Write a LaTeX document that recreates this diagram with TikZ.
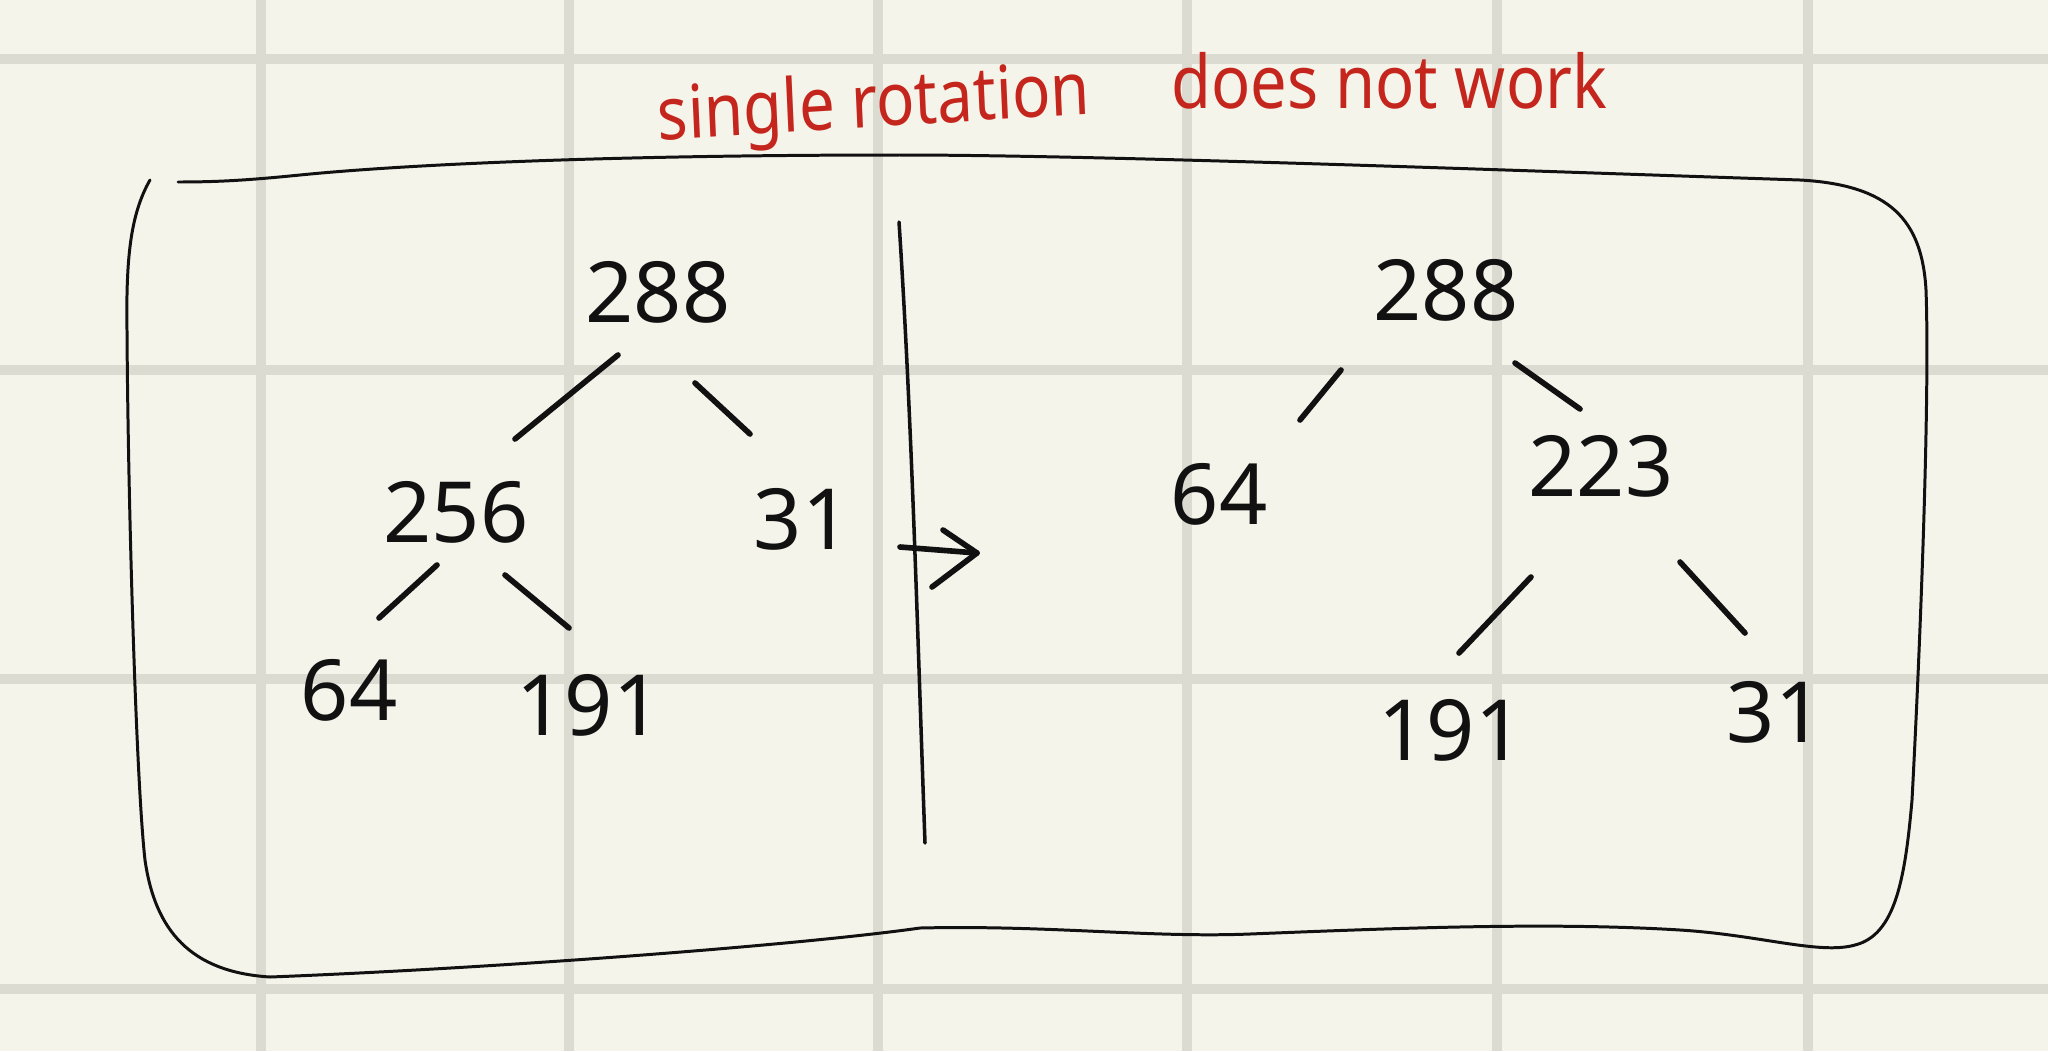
\documentclass[tikz,border=0pt]{standalone}
\usepackage{fontspec}
\setmainfont{Noto Sans}
\usetikzlibrary{calc}
\definecolor{paper}{HTML}{F5F4EA}
\definecolor{gridc}{HTML}{DCDBD1}
\definecolor{ink}{HTML}{111111}
\definecolor{redink}{HTML}{C4261D}
\begin{document}
\begin{tikzpicture}[x=0.01cm,y=-0.01cm,
  num/.style={font=\fontsize{24}{28}\selectfont, text=ink, inner sep=0pt},
  edge/.style={draw=ink, line width=1.6pt, line cap=round, line join=round},
  frame/.style={draw=ink, line width=0.85pt, line cap=round, line join=round},
  titletext/.style={font=\fontsize{21}{25}\selectfont, text=redink, inner sep=0pt, anchor=base},
  gridline/.style={draw=gridc, line width=2.85pt}]
\fill[paper] (0,0) rectangle (2048,1051);
\useasboundingbox (0,0) rectangle (2048,1051);
\foreach \gx in {261,569,878,1187,1497,1808} \draw[gridline] (\gx,0) -- (\gx,1051);
\foreach \gy in {59,370,679,989} \draw[gridline] (0,\gy) -- (2048,\gy);

% title
\node[titletext, xscale=0.86, rotate=3] (t1) at (875,127) {single rotation};
\node[titletext, xscale=0.88] (t2) at (1389,108) {does not work};

% frame
\draw[frame] (150,180) .. controls (130,215) and (126,260) .. (127,330)
  .. controls (128,500) and (136,780) .. (145,860)
  .. controls (155,930) and (190,972) .. (270,977)
  .. controls (500,968) and (800,945) .. (920,928)
  .. controls (1050,925) and (1150,938) .. (1250,934)
  .. controls (1400,928) and (1550,922) .. (1680,930)
  .. controls (1760,935) and (1820,955) .. (1855,945)
  .. controls (1895,935) and (1905,880) .. (1912,800)
  .. controls (1920,650) and (1930,400) .. (1926,290)
  .. controls (1922,220) and (1890,185) .. (1800,180)
  .. controls (1500,170) and (1100,155) .. (900,155)
  .. controls (600,155) and (400,165) .. (300,175)
  .. controls (250,180) and (220,182) .. (178,182);

% divider
\draw[draw=ink, line width=1pt, line cap=round] (899,222) .. controls (912,420) and (918,650) .. (925,843);

% arrow
\coordinate (arrS) at (900,547);
\coordinate (arrE) at (977,553);
\draw[edge] (arrS) -- (arrE);
\draw[edge] (943,530) -- (arrE) -- (932,587);

% left tree
\node[num] (a288) at (658,292) {288};
\node[num] (a256) at (456,512) {256};
\node[num] (a31)  at (802,519) {31};
\node[num] (a64)  at (349,690) {64};
\node[num] (a191) at (589,705) {191};
\draw[edge] ($(a288)+(-40,63)$) -- ($(a256)+(59,-73)$);
\draw[edge] ($(a288)+(37,91)$)  -- ($(a31)+(-52,-85)$);
\draw[edge] ($(a256)+(-19,53)$) -- ($(a64)+(30,-72)$);
\draw[edge] ($(a256)+(49,63)$)  -- ($(a191)+(-20,-77)$);

% right tree
\node[num] (b288) at (1446,290) {288};
\node[num] (b64)  at (1219,494) {64};
\node[num] (b223) at (1601,466) {223};
\node[num] (b191) at (1451,730) {191};
\node[num] (b31)  at (1775,712) {31};
\draw[edge] ($(b288)+(-105,80)$) -- ($(b64)+(81,-74)$);
\draw[edge] ($(b288)+(69,73)$)   -- ($(b223)+(-21,-57)$);
\draw[edge] ($(b223)+(-70,111)$) -- ($(b191)+(8,-77)$);
\draw[edge] ($(b223)+(79,96)$)   -- ($(b31)+(-30,-79)$);
\end{tikzpicture}
\end{document}
